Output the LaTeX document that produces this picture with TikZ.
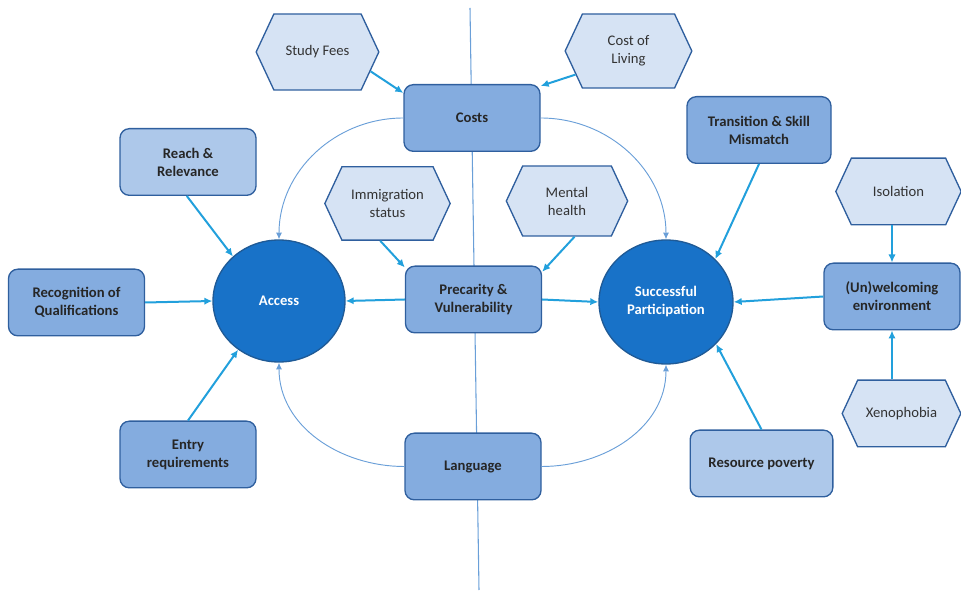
\documentclass[tikz,border=0pt]{standalone}
\usepackage{fontspec}
\setmainfont{Carlito}
\usepackage{tikz}
\usetikzlibrary{shapes.geometric}
\usetikzlibrary{shapes.symbols}
\usetikzlibrary{arrows.meta}
\definecolor{boxmid}{HTML}{84ACDF}
\definecolor{boxlight}{HTML}{ADC8EA}
\definecolor{hexfill}{HTML}{D6E3F4}
\definecolor{edgeblue}{HTML}{2F5F9E}
\definecolor{circfill}{HTML}{1872C8}
\definecolor{circedge}{HTML}{1F5A96}
\definecolor{arrowcyan}{HTML}{22A0DC}
\definecolor{thinblue}{HTML}{6A9FD8}

\begin{document}
\begin{tikzpicture}[
	x=0.75pt, y=-0.75pt,
	font=\fontsize{11}{13.5}\selectfont
]
\tikzset{
    mybox/.style = {rectangle, rounded corners=7pt, draw=edgeblue, line width=1pt, fill=boxmid, align=center, font=\fontsize{11}{13.5}\selectfont\bfseries, text=black!85, minimum width=102pt, minimum height=50pt, inner sep=2pt},
    myhex/.style = {signal, signal to=west and east, signal pointer angle=130, draw=edgeblue, line width=1pt, fill=hexfill, align=center, text=black!80, inner sep=2pt},
    mycirc/.style = {ellipse, draw=circedge, line width=1pt, fill=circfill, text=white, align=center, font=\fontsize{11}{13.5}\selectfont\bfseries, minimum width=99pt, minimum height=91.5pt},
    myarrow/.style = {draw=arrowcyan, line width=1.5pt, -{Latex[length=6pt,width=5.5pt]}},
    mycurve/.style = {draw=thinblue, line width=0.7pt, -{Latex[length=5pt,width=4.5pt]}}
}
\useasboundingbox (0,0) rectangle (961,591);
% divider
\draw[thinblue, line width=0.8pt] (470,8) -- (479,590);

% centres
\node[mycirc] (access) at (279,301) {Access};
\node[mycirc,minimum width=100.5pt,minimum height=93pt] (success) at (666,302) {Successful\\Participation};

% boxes
\node[mybox] (costs) at (472,118) {Costs};
\node[mybox,fill=boxlight] (reach) at (188,162) {Reach \&\\Relevance};
\node[mybox] (recog) at (76.5,302.5) {Recognition of\\Qualifications};
\node[mybox] (entry) at (188,454.5) {Entry\\requirements};
\node[mybox] (precar) at (473.5,299.5) {Precarity \&\\Vulnerability};
\node[mybox] (lang) at (473,466.5) {Language};
\node[mybox,minimum width=108pt] (trans) at (759,130) {Transition \& Skill\\Mismatch};
\node[mybox] (unwel) at (892,296.5) {(Un)welcoming\\environment};
\node[mybox,fill=boxlight,minimum width=107pt] (resource) at (761.5,463.5) {Resource poverty};

% hexagons
\node[myhex,minimum width=92pt,minimum height=57pt] (fees) at (317.5,52) {Study Fees};
\node[myhex,minimum width=95pt,minimum height=55.5pt] (living) at (628.5,51) {Cost of\\Living};
\node[myhex,minimum width=94pt,minimum height=55pt] (immig) at (387.5,203.5) {Immigration\\status};
\node[myhex,minimum width=91pt,minimum height=52.5pt] (mental) at (567,201) {Mental\\health};
\node[myhex,minimum width=94pt,minimum height=50pt] (isol) at (898.5,191.5) {Isolation};
\node[myhex,minimum width=89pt,minimum height=50pt] (xeno) at (901.5,413.5) {Xenophobia};

% arrows
\draw[myarrow] (fees.340) -- (costs.160);
\draw[myarrow] (living.204) -- (costs.25);
\draw[myarrow] (reach.268) -- (access.136);
\draw[myarrow] (recog.east) -- (access.west);
\draw[myarrow] (entry.north) -- (access.230);
\draw[myarrow] (immig.259) -- (precar.155);
\draw[myarrow] (mental.282) -- (precar.22);
\draw[myarrow] (precar.west) -- (access.east);
\draw[myarrow] (precar.east) -- (success.west);
\draw[myarrow] (trans.south) -- (success.41);
\draw[myarrow] (unwel.west) -- (success.east);
\draw[myarrow] (isol.south -| unwel.north) -- (unwel.north);
\draw[myarrow] (xeno.north -| unwel.south) -- (unwel.south);
\draw[myarrow] (resource.north) -- (success.320);

% curves
\draw[mycurve] (costs.west) to[out=180,in=90] (access.north);
\draw[mycurve] (costs.east) to[out=0,in=90] (success.north);
\draw[mycurve] (lang.west) to[out=180,in=-90] (access.south);
\draw[mycurve] (lang.east) to[out=0,in=-90] (success.south);
\end{tikzpicture}
\end{document}
